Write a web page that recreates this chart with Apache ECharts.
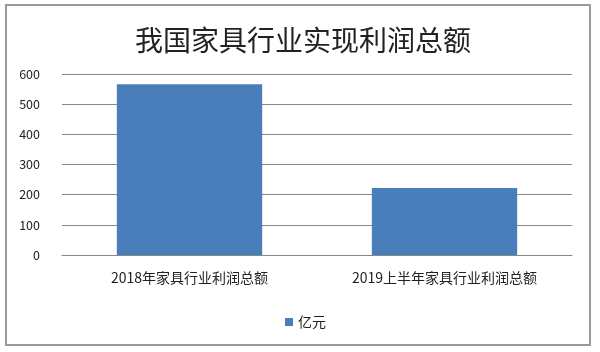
<!DOCTYPE html>
<html><head><meta charset="utf-8">
<script src="https://cdn.jsdelivr.net/npm/echarts@6/dist/echarts.min.js"></script>
<style>html,body{margin:0;padding:0;background:#fff}#c{width:600px;height:352px}</style>
</head><body><div id="c"></div>
<script>
const categories = ['2018年家具行业利润总额', '2019上半年家具行业利润总额'];
const values = [566, 222];
const seriesName = '亿元';
const titleText = '我国家具行业实现利润总额';
const yTicks = [0, 100, 200, 300, 400, 500, 600];

const chart = echarts.init(document.getElementById('c'));
const font = '"Noto Sans CJK SC", "Noto Sans", sans-serif';
chart.setOption({
  animation: false,
  backgroundColor: '#fff',
  graphic: [{
    type: 'rect', shape: {x: 6, y: 5, width: 584, height: 340},
    style: {fill: 'none', stroke: '#9a9a9a', lineWidth: 2}, silent: true
  }],
  title: {
    text: titleText, left: 298, top: 21, textAlign: 'center',
    textStyle: {fontFamily: font, fontSize: 28, fontWeight: 'normal', color: '#222'}
  },
  legend: {
    data: [seriesName], bottom: 18, left: 280, itemWidth: 8, itemHeight: 8, itemGap: 6,
    icon: 'rect',
    textStyle: {fontFamily: font, fontSize: 14, color: '#222'}
  },
  grid: {left: 62, right: 28, top: 74, bottom: 97},
  xAxis: {
    type: 'category', data: categories,
    axisLine: {lineStyle: {color: '#888'}}, axisTick: {show: false},
    axisLabel: {fontFamily: font, fontSize: 14, color: '#222', margin: 16}
  },
  yAxis: {
    type: 'value', min: yTicks[0], max: yTicks[yTicks.length - 1], interval: 100,
    axisLine: {show: false}, axisTick: {show: false},
    splitLine: {lineStyle: {color: '#888'}},
    axisLabel: {fontFamily: font, fontSize: 12.5, color: '#222', margin: 22}
  },
  series: [{
    name: seriesName, type: 'bar', data: values, barWidth: '57%',
    itemStyle: {color: '#4a7ebb'}
  }]
});
</script></body></html>
